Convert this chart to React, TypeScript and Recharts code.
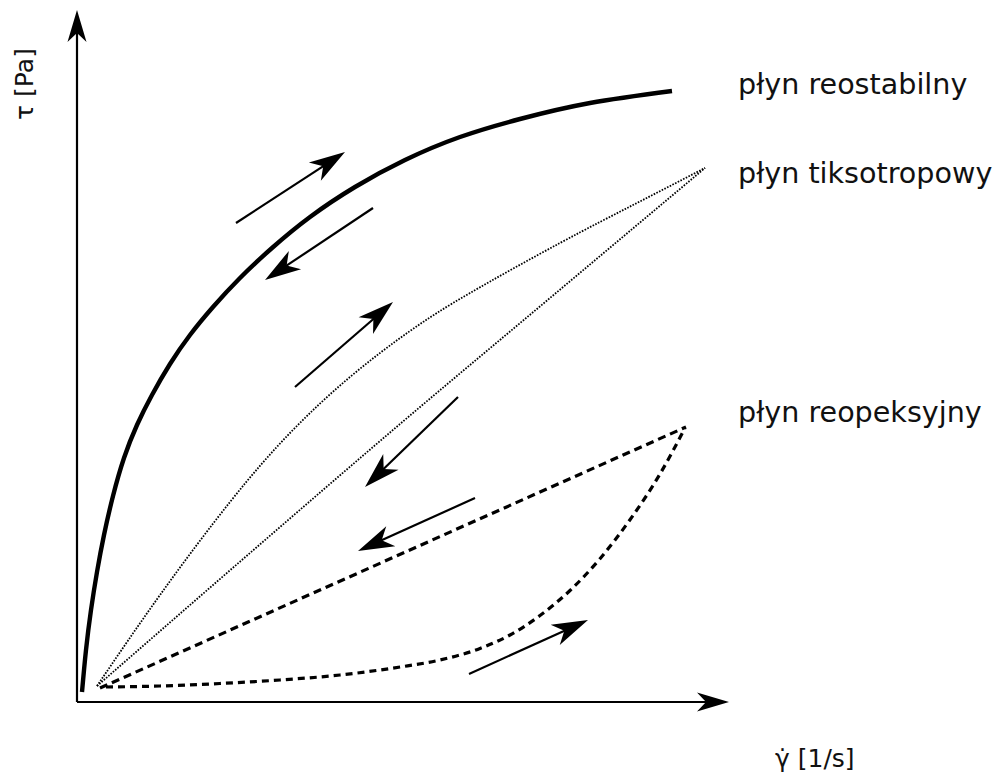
import React from "react";
import {
  ComposedChart,
  Line,
  XAxis,
  YAxis,
  ReferenceLine,
  ReferenceDot,
} from "recharts";

// Shear rate (x) / shear stress (y) in arbitrary units, measured from the origin.
const reostabilnyX = [5, 9, 14, 20, 27, 36, 47, 60, 75, 93, 113, 136, 163, 195, 233, 278, 328, 383, 443, 513, 595];
const reostabilnyY = [10, 52, 92, 130, 167, 206, 244, 277, 307, 338, 367, 395, 424, 454, 485, 515, 542, 565, 583, 599, 611];

const tiksoUpX = [20, 83, 153, 213, 273, 333, 393, 483, 558, 628];
const tiksoUpY = [16, 107, 200, 269, 325, 371, 409, 459, 498, 534];

const tiksoDownX = [20, 173, 323, 473, 628];
const tiksoDownY = [16, 149, 278, 404, 534];

const reopDownX = [23, 609];
const reopDownY = [14, 275];

const reopUpX = [29, 83, 143, 203, 263, 323, 363, 403, 433, 463, 493, 523, 553, 583, 608];
const reopUpY = [15, 16, 18.5, 22, 27, 35, 42, 53.5, 67, 86.5, 111.5, 143.3, 182.3, 228, 274];

// direction arrows: [tailX, tailY, tipX, tipY]
const arrows = [
  [159, 479, 268, 550],
  [296, 494, 188, 422],
  [218, 315, 316, 400],
  [381, 305, 288, 215],
  [398, 204, 281, 151],
  [392, 28, 511, 82],
];

// axes: [tailX, tailY, tipX, tipY]
const axes = [
  [0, 0, 0, 692],
  [0, 0, 652, 0],
];

const curveLabels = ["płyn reostabilny", "płyn tiksotropowy", "płyn reopeksyjny"];
const curveLabelX = [661, 661, 661];
const curveLabelY = [608, 519, 280];

const yAxisLabel = "τ [Pa]";
const xAxisLabel = "γ̇ [1/s]";

const zip = (xs: number[], ys: number[]) => xs.map((x, i) => ({ x, y: ys[i] }));

const makeArrowShape = (L: number, W: number, N: number, sw: number) => (props: any) => {
  const { x1, y1, x2, y2 } = props;
  const dx = x2 - x1;
  const dy = y2 - y1;
  const len = Math.sqrt(dx * dx + dy * dy) || 1;
  const ux = dx / len;
  const uy = dy / len;
  const px = -uy;
  const py = ux;
  const bx = x2 - ux * L;
  const by = y2 - uy * L;
  const nx = x2 - ux * N;
  const ny = y2 - uy * N;
  const pts = [
    [x2, y2],
    [bx + px * W, by + py * W],
    [nx, ny],
    [bx - px * W, by - py * W],
  ]
    .map((p) => p.join(","))
    .join(" ");
  return (
    <g>
      <line x1={x1} y1={y1} x2={nx + ux * 2} y2={ny + uy * 2} stroke="#000" strokeWidth={sw} />
      <polygon points={pts} fill="#000" stroke="none" />
    </g>
  );
};

const curveArrow = makeArrowShape(36, 11, 26, 2.2);
const axisArrow = makeArrowShape(32, 9.5, 23, 2.2);

const FONT = "DejaVu Sans, sans-serif";

const textShape = (label: string, size: number) => (props: any) => (
  <text x={props.cx} y={props.cy} fontSize={size} fontFamily={FONT} fill="#111" textAnchor="start">
    {label}
  </text>
);

const yLabelShape = (props: any) => (
  <text
    x={props.cx}
    y={props.cy}
    fontSize={25}
    fontFamily={FONT}
    fill="#111"
    textAnchor="middle"
    transform={`rotate(-90, ${props.cx}, ${props.cy})`}
  >
    {yAxisLabel}
  </text>
);

export default function App() {
  return (
    <div style={{ position: "absolute", left: 0, top: 0, background: "#fff" }}>
      <ComposedChart width={998} height={778} margin={{ top: 0, right: 0, bottom: 0, left: 0 }}>
        <XAxis type="number" dataKey="x" domain={[-77, 921]} hide allowDataOverflow />
        <YAxis type="number" dataKey="y" domain={[-76, 702]} hide allowDataOverflow />

        {axes.map((a, i) => (
          <ReferenceLine
            key={"ax" + i}
            segment={[{ x: a[0], y: a[1] }, { x: a[2], y: a[3] }]}
            ifOverflow="visible"
            shape={axisArrow}
          />
        ))}

        <Line
          data={zip(reostabilnyX, reostabilnyY)}
          dataKey="y"
          type="natural"
          stroke="#000"
          strokeWidth={4.4}
          dot={false}
          activeDot={false}
          isAnimationActive={false}
        />
        <Line
          data={zip(tiksoUpX, tiksoUpY)}
          dataKey="y"
          type="natural"
          stroke="#000"
          strokeWidth={1.8}
          strokeDasharray="1.6 1.4"
          dot={false}
          activeDot={false}
          isAnimationActive={false}
        />
        <Line
          data={zip(tiksoDownX, tiksoDownY)}
          dataKey="y"
          type="monotone"
          stroke="#000"
          strokeWidth={1.8}
          strokeDasharray="1.6 1.4"
          dot={false}
          activeDot={false}
          isAnimationActive={false}
        />
        <Line
          data={zip(reopDownX, reopDownY)}
          dataKey="y"
          type="linear"
          stroke="#000"
          strokeWidth={3.2}
          strokeDasharray="8 5"
          dot={false}
          activeDot={false}
          isAnimationActive={false}
        />
        <Line
          data={zip(reopUpX, reopUpY)}
          dataKey="y"
          type="monotone"
          stroke="#000"
          strokeWidth={3.2}
          strokeDasharray="7 5"
          dot={false}
          activeDot={false}
          isAnimationActive={false}
        />

        {arrows.map((a, i) => (
          <ReferenceLine
            key={"ar" + i}
            segment={[{ x: a[0], y: a[1] }, { x: a[2], y: a[3] }]}
            ifOverflow="visible"
            shape={curveArrow}
          />
        ))}

        {curveLabels.map((t, i) => (
          <ReferenceDot
            key={"lb" + i}
            x={curveLabelX[i]}
            y={curveLabelY[i]}
            ifOverflow="visible"
            shape={textShape(t, 28.6)}
          />
        ))}

        <ReferenceDot x={-44} y={618} ifOverflow="visible" shape={yLabelShape} />
        <ReferenceDot x={698} y={-65} ifOverflow="visible" shape={textShape(xAxisLabel, 25)} />
      </ComposedChart>
    </div>
  );
}
